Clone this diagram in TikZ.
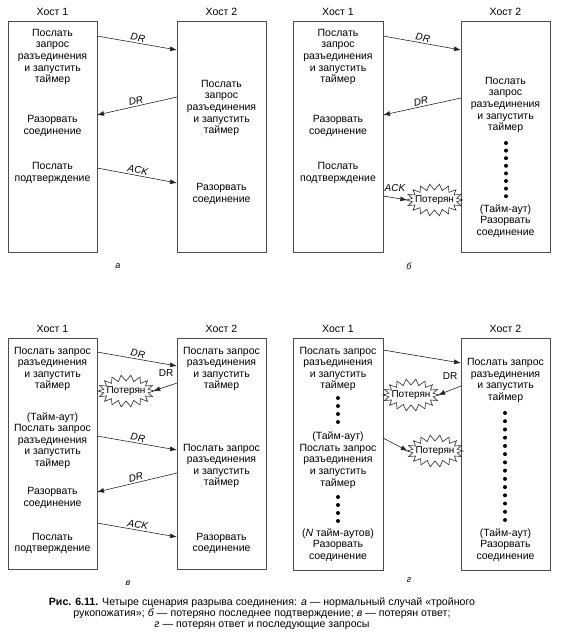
\documentclass[tikz,border=0pt]{standalone}
\usepackage{fontspec}
\setmainfont{Liberation Sans}
\usetikzlibrary{arrows.meta,calc}
\tikzset{
  txt/.style={font=\fontsize{10.5}{11.6}\selectfont, align=center, inner sep=0pt},
  ttl/.style={font=\fontsize{10.5}{12}\selectfont, inner sep=0pt},
  sub/.style={font=\fontsize{9}{11}\selectfont\itshape, inner sep=0pt},
  hostbox/.style={draw=black!70, line width=0.9pt, inner sep=0pt, anchor=north west},
  msg/.style={draw=black!85, line width=0.6pt, -{Latex[length=7pt,width=5pt]}},
  lbl/.style={font=\fontsize{10}{12}\selectfont\itshape, sloped, above=0.5pt, midway, inner sep=1pt},
  freelbl/.style={font=\fontsize{10}{12}\selectfont, inner sep=0.5pt},
  lost/.style={font=\fontsize{10}{12}\selectfont, inner sep=0pt, minimum width=54pt, minimum height=14pt},
  burstline/.style={draw=black!85, line width=0.6pt, line join=miter},
}
\newcommand\lostburst[1]{%
  \draw[burstline] ($(#1.center)+(28,0)$)
    \foreach \k in {1,...,35}{ -- ($(#1.center)+({(mod(\k,2)==0 ? 28 : 22.5)*cos(\k*10)},{(mod(\k,2)==0 ? 16 : 10)*sin(\k*10)})$) } -- cycle;}
\begin{document}
\begin{tikzpicture}[x=1pt,y=-1pt]
\useasboundingbox (0,0) rectangle (562,642);
% ---------------- panel a ----------------
\node[ttl] (aT1) at (52.5,12) {Хост 1};
\node[ttl] (aT2) at (221.5,12) {Хост 2};
\node[hostbox, minimum width=89pt, minimum height=231pt] (aH1) at (8,21) {};
\node[hostbox, minimum width=89pt, minimum height=231pt] (aH2) at (177,21) {};
\node[txt] (a11) at (52.5,57) {Послать\\запрос\\разъединения\\и запустить\\таймер};
\node[txt] (a12) at (52.5,126) {Разорвать\\соединение};
\node[txt] (a13) at (52.5,173) {Послать\\подтверждение};
\node[txt] (a21) at (221.5,108) {Послать\\запрос\\разъединения\\и запустить\\таймер};
\node[txt] (a22) at (221.5,194) {Разорвать\\соединение};
\coordinate (ap1) at (97,36);  \coordinate (ap2) at (177,50);
\coordinate (ap3) at (177,97); \coordinate (ap4) at (97,115);
\coordinate (ap5) at (97,168); \coordinate (ap6) at (177,183);
\draw[msg] (ap1) -- node[lbl] (al1) {DR} (ap2);
\draw[msg] (ap3) -- node[lbl] (al2) {DR} (ap4);
\draw[msg] (ap5) -- node[lbl] (al3) {ACK} (ap6);
\node[sub] (aS) at (118,266) {а};
% ---------------- panel b ----------------
\node[ttl] (bT1) at (338,12) {Хост 1};
\node[ttl] (bT2) at (505.5,12) {Хост 2};
\node[hostbox, minimum width=90pt, minimum height=231pt] (bH1) at (293,21) {};
\node[hostbox, minimum width=89pt, minimum height=231pt] (bH2) at (461,21) {};
\node[txt] (b11) at (338,57) {Послать\\запрос\\разъединения\\и запустить\\таймер};
\node[txt] (b12) at (338,126) {Разорвать\\соединение};
\node[txt] (b13) at (338,173) {Послать\\подтверждение};
\node[txt] (b21) at (505.5,105) {Послать\\запрос\\разъединения\\и запустить\\таймер};
\foreach \y in {143,150.6,158.2,165.8,173.4,181,188.6,196.2} \fill (506,\y) circle (2);
\node[txt] (b22) at (505.5,221) {(Тайм-аут)\\Разорвать\\соединение};
\coordinate (bp1) at (383,36);  \coordinate (bp2) at (461,50);
\coordinate (bp3) at (461,98);  \coordinate (bp4) at (383,115);
\coordinate (bp5) at (383,196);
\node[lost] (bL) at (434.5,200) {Потерян};
\lostburst{bL}
\draw[msg] (bp1) -- node[lbl] (bl1) {DR} (bp2);
\draw[msg] (bp3) -- node[lbl] (bl2) {DR} (bp4);
\draw[msg] (bp5) -- (bL.west);
\node[freelbl, font=\fontsize{10}{12}\selectfont\itshape] (bl3) at (395,188) {ACK};
\node[sub] (bS) at (409,266) {б};
% ---------------- panel c ----------------
\node[ttl] (cT1) at (52.5,329) {Хост 1};
\node[ttl] (cT2) at (221.5,329) {Хост 2};
\node[hostbox, minimum width=89pt, minimum height=231pt] (cH1) at (8,338) {};
\node[hostbox, minimum width=89pt, minimum height=231pt] (cH2) at (177,338) {};
\node[txt] (c11) at (52.5,369) {Послать запрос\\разъединения\\и запустить\\таймер};
\node[txt] (c12) at (52.5,440.5) {(Тайм-аут)\\Послать запрос\\разъединения\\и запустить\\таймер};
\node[txt] (c13) at (52.5,498) {Разорвать\\соединение};
\node[txt] (c14) at (52.5,543.5) {Послать\\подтверждение};
\node[txt] (c21) at (221.5,369) {Послать запрос\\разъединения\\и запустить\\таймер};
\node[txt] (c22) at (221.5,466) {Послать запрос\\разъединения\\и запустить\\таймер};
\node[txt] (c23) at (221.5,543.5) {Разорвать\\соединение};
\coordinate (cp1) at (97,352);  \coordinate (cp2) at (177,366);
\coordinate (cp3) at (177,383);
\coordinate (cp5) at (97,436);  \coordinate (cp6) at (177,450);
\coordinate (cp7) at (177,473); \coordinate (cp8) at (97,492);
\coordinate (cp9) at (97,523);  \coordinate (cp10) at (177,537);
\node[lost] (cL) at (126,391) {Потерян};
\lostburst{cL}
\draw[msg] (cp1) -- node[lbl] (cl1) {DR} (cp2);
\draw[msg] (cp3) -- (cL.east);
\node[freelbl] (cl2) at (166,373) {DR};
\draw[msg] (cp5) -- node[lbl] (cl3) {DR} (cp6);
\draw[msg] (cp7) -- node[lbl] (cl4) {DR} (cp8);
\draw[msg] (cp9) -- node[lbl] (cl5) {ACK} (cp10);
\node[sub] (cS) at (128,583) {в};
% ---------------- panel d ----------------
\node[ttl] (dT1) at (338,329) {Хост 1};
\node[ttl] (dT2) at (505.5,329) {Хост 2};
\node[hostbox, minimum width=90pt, minimum height=232pt] (dH1) at (293,338) {};
\node[hostbox, minimum width=89pt, minimum height=232pt] (dH2) at (461,338) {};
\node[txt] (d11) at (338,369) {Послать запрос\\разъединения\\и запустить\\таймер};
\foreach \y in {398,406,414,422} \fill (338,\y) circle (2);
\node[txt] (d12) at (338,460) {(Тайм-аут)\\Послать запрос\\разъединения\\и запустить\\таймер};
\foreach \y in {497,505,513,521} \fill (338,\y) circle (2);
\node[txt] (d13) at (338,545) {(\textit{N} тайм-аутов)\\Разорвать\\соединение};
\node[txt] (d21) at (505.5,380.5) {Послать запрос\\разъединения\\и запустить\\таймер};
\foreach \i in {0,...,13} \fill (505,{413+\i*8.23}) circle (2);
\node[txt] (d22) at (505.5,545) {(Тайм-аут)\\Разорвать\\соединение};
\coordinate (dp1) at (383,350);  \coordinate (dp2) at (461,363);
\coordinate (dp3) at (461,386);
\coordinate (dp5) at (383,438);
\node[lost] (dL1) at (411,395) {Потерян};
\lostburst{dL1}
\node[lost] (dL2) at (435,451) {Потерян};
\lostburst{dL2}
\draw[msg] (dp1) -- (dp2);
\draw[msg] (dp3) -- (dL1.east);
\node[freelbl] (dl2) at (450,376) {DR};
\draw[msg] (dp5) -- (dL2.west);
\node[sub] (dS) at (409,580) {г};
% ---------------- caption ----------------
\node[font=\fontsize{10.6}{11}\selectfont, align=center, inner sep=0pt] (cap) at (262,613.5)
 {\textbf{Рис. 6.11.} Четыре сценария разрыва соединения: \textit{а} — нормальный случай «тройного\\
  рукопожатия»; \textit{б} — потеряно последнее подтверждение; \textit{в} — потерян ответ;\\
  \textit{г} — потерян ответ и последующие запросы};
\end{tikzpicture}
\end{document}
